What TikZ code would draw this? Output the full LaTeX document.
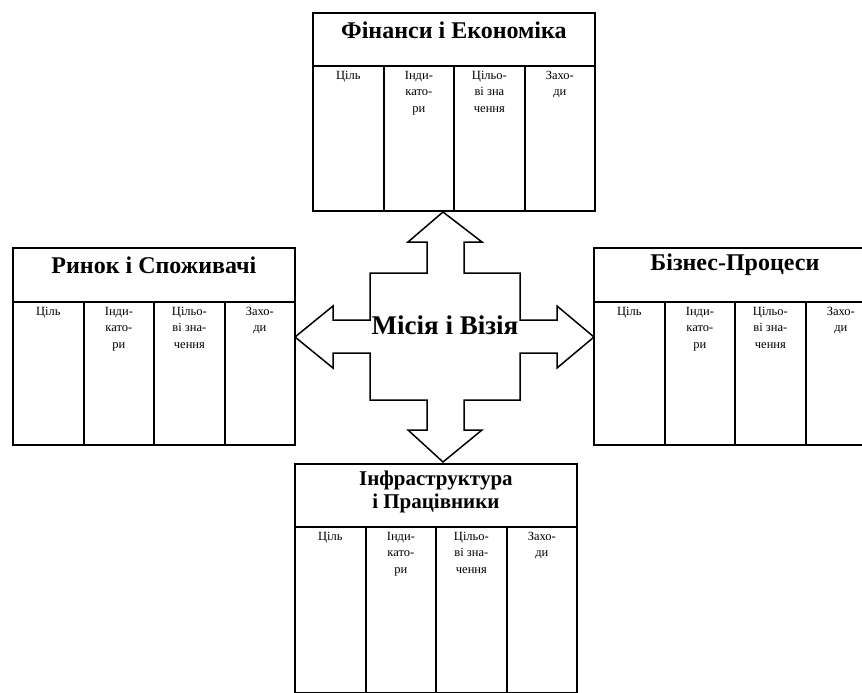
\documentclass[tikz,border=0pt]{standalone}
\usepackage{fontspec}
\setmainfont{Liberation Serif}
\begin{document}
\begin{tikzpicture}[x=1pt,y=-1pt,
  frame/.style={draw=black, line width=1.8pt, inner sep=0pt, anchor=north west},
  ttl/.style={font=\fontsize{24}{23}\selectfont\bfseries, align=center, inner sep=0pt, anchor=center},
  celltxt/.style={font=\fontsize{12.5}{16.5}\selectfont, align=center, inner sep=0pt, anchor=north},
  cross/.style={draw=black, line width=1.5pt, line join=miter, fill=white}
]
\useasboundingbox (0,0) rectangle (862,693);
\clip (0,0) rectangle (862,693);

% #1 name, #2 left x, #3 top y, #4 header height, #5 body height, #6 title, #7 title centre offset, #8 third column text
\newcommand\scorecard[8]{%
  \node[frame, minimum width=282pt, minimum height=#4pt] (#1-h) at (#2,#3) {};
  \node[ttl] (#1-t) at ([yshift=-#7pt]#1-h.north) {#6};
  \foreach \i/\off/\colw in {1/0/71, 2/71/70, 3/141/71, 4/212/70}{
    \node[frame, minimum width=\colw pt, minimum height=#5pt] (#1-c\i) at (#2+\off,#3+#4) {};
  }
  \node[celltxt] (#1-a) at ([yshift=-6pt]#1-c1.north) {Ціль};
  \node[celltxt] (#1-b) at ([yshift=-6pt]#1-c2.north) {Інди-\\като-\\ри};
  \node[celltxt] (#1-c) at ([yshift=-6pt]#1-c3.north) {#8};
  \node[celltxt] (#1-d) at ([yshift=-6pt]#1-c4.north) {Захо-\\ди};
}

% the four perspectives
\scorecard{fin}{312}{12}{53}{145}{Фінанси і Економіка}{18}{Цільо-\\ві зна\\чення}
\scorecard{mkt}{12}{247}{54}{143}{Ринок і Споживачі}{18}{Цільо-\\ві зна-\\чення}
\scorecard{bus}{593}{247}{54}{143}{Бізнес-Процеси}{18}{Цільо-\\ві зна-\\чення}
\scorecard{inf}{294}{463}{63}{166}{\fontsize{21}{23}\selectfont Інфраструктура\\\fontsize{21}{23}\selectfont і Працівники}{29}{Цільо-\\ві зна-\\чення}

% four-headed arrow in the middle
\draw[cross] (443,212) -- (482,242) -- (464,242) -- (464,273) -- (520,273) -- (520,320)
  -- (557,320) -- (557,306) -- (594,337) -- (557,368) -- (557,353) -- (520,353)
  -- (520,400) -- (464,400) -- (464,430) -- (482,430) -- (443,462) -- (408,430)
  -- (427,430) -- (427,400) -- (370,400) -- (370,353) -- (333,353) -- (333,368)
  -- (295,337) -- (333,306) -- (333,320) -- (370,320) -- (370,273) -- (427,273)
  -- (427,242) -- (408,242) -- cycle;
\node[font=\fontsize{27}{29}\selectfont\bfseries, inner sep=0pt] (mission) at (445,325) {Місія і Візія};
\end{tikzpicture}
\end{document}
